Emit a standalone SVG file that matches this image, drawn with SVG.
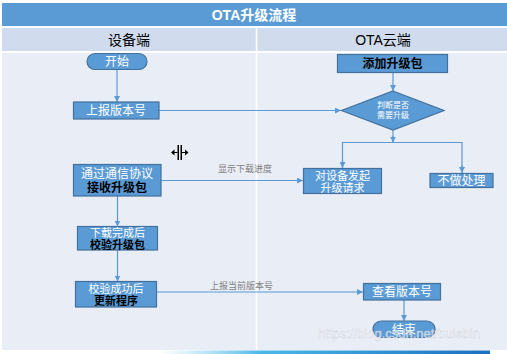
<svg xmlns="http://www.w3.org/2000/svg" width="507" height="354" viewBox="0 0 507 354">
<defs>
<marker id="arr" viewBox="0 0 6 6" refX="6" refY="3" markerWidth="6" markerHeight="6" orient="auto" markerUnits="userSpaceOnUse">
<path d="M0,0 L6,3 L0,6 z" fill="#5B9BD5"/>
</marker>
<linearGradient id="bar" x1="0" y1="0" x2="1" y2="0">
<stop offset="0" stop-color="#7FD3F0" stop-opacity="0"/>
<stop offset="0.3" stop-color="#4FB8E8"/>
<stop offset="1" stop-color="#1A6FC0"/>
</linearGradient>
<style>
text{font-family:"Liberation Sans","Noto Sans CJK SC",sans-serif;}
.box{fill:#5B9BD5;stroke:#41719C;stroke-width:1.2;}
.w{fill:#FFFFFF;font-size:12px;text-anchor:middle;}
.b{fill:#000000;font-size:12px;font-weight:bold;text-anchor:middle;}
.s{font-size:11px;}
.d{fill:#FFFFFF;font-size:8px;text-anchor:middle;}
.lbl{fill:#7F7F7F;font-size:9px;}
.con{fill:none;stroke:#5B9BD5;stroke-width:1.2;}
</style>
</defs>
<rect x="0" y="0" width="507" height="354" fill="#FFFFFF"/>
<rect x="2" y="3" width="505" height="23" fill="#5B9BD5"/>
<text x="254" y="20" fill="#FFFFFF" font-size="14" font-weight="bold" text-anchor="middle">OTA升级流程</text>
<rect x="2" y="28" width="505" height="23" fill="#D0DCEE"/>
<rect x="2" y="53" width="505" height="297" fill="#E9EDF6"/>
<line x1="256.5" y1="28" x2="256.5" y2="350" stroke="#FFFFFF" stroke-width="1.5"/>
<text x="129" y="45" fill="#000" font-size="14" text-anchor="middle">设备端</text>
<text x="383" y="45" fill="#000" font-size="14" text-anchor="middle">OTA云端</text>
<rect x="160" y="350.5" width="330" height="3.5" fill="url(#bar)"/>
<g id="connectors">
<line class="con" x1="117" y1="69" x2="117" y2="102" marker-end="url(#arr)"/>
<line class="con" x1="159" y1="110.5" x2="341" y2="110.5" marker-end="url(#arr)"/>
<line class="con" x1="393" y1="72.5" x2="393" y2="91" marker-end="url(#arr)"/>
<polyline class="con" points="393,130 393,142.5"/>
<polyline class="con" points="342.5,168 342.5,142.5 462,142.5 462,173"/>
<line class="con" x1="342.5" y1="160" x2="342.5" y2="168" marker-end="url(#arr)"/>
<line class="con" x1="462" y1="165" x2="462" y2="173" marker-end="url(#arr)"/>
<line class="con" x1="393" y1="136" x2="393" y2="142.5" marker-end="url(#arr)"/>
<line class="con" x1="161" y1="180.5" x2="303" y2="180.5" marker-end="url(#arr)"/>
<text class="lbl" x="218" y="172">显示下载进度</text>
<line class="con" x1="117.5" y1="196" x2="117.5" y2="226.5" marker-end="url(#arr)"/>
<line class="con" x1="117.5" y1="250" x2="117.5" y2="281.5" marker-end="url(#arr)"/>
<line class="con" x1="156.5" y1="292" x2="363" y2="292" marker-end="url(#arr)"/>
<text class="lbl" x="210" y="289">上报当前版本号</text>
<line class="con" x1="404" y1="300" x2="404" y2="321" marker-end="url(#arr)"/>
</g>
<g id="start">
<rect class="box" x="87" y="53.5" width="60" height="16" rx="8"/>
<text class="w" x="117" y="66">开始</text>
</g>
<g id="report">
<rect class="box" x="73.5" y="102" width="85.5" height="17"/>
<text class="w" x="116" y="115">上报版本号</text>
</g>
<g id="add">
<rect class="box" x="337.5" y="54.5" width="110" height="18"/>
<text class="b" x="392.5" y="68">添加升级包</text>
</g>
<g id="judge">
<polygon class="box" points="393,91 444,110.5 393,130 341.5,110.5"/>
<text class="d" x="393" y="108">判断是否</text>
<text class="d" x="393" y="118">需要升级</text>
</g>
<g id="request">
<rect class="box" x="303.5" y="168.5" width="78" height="25"/>
<text class="w s" x="342.5" y="179.5">对设备发起</text>
<text class="w s" x="342.5" y="191.5">升级请求</text>
</g>
<g id="noop">
<rect class="box" x="430" y="173.5" width="63" height="14"/>
<text class="w" x="461.5" y="185">不做处理</text>
</g>
<g id="receive">
<rect class="box" x="73.5" y="164.5" width="87.5" height="31.5"/>
<text class="w" x="117" y="177.5">通过通信协议</text>
<text class="b" x="117" y="192">接收升级包</text>
</g>
<g id="verify">
<rect class="box" x="77.5" y="226.5" width="80" height="23.5"/>
<text class="w s" x="117.5" y="237">下载完成后</text>
<text class="b s" x="117.5" y="248.5">校验升级包</text>
</g>
<g id="update">
<rect class="box" x="75.5" y="281.5" width="81" height="25.5"/>
<text class="w s" x="116" y="292.5">校验成功后</text>
<text class="b s" x="116" y="305">更新程序</text>
</g>
<g id="check">
<rect class="box" x="363.5" y="283.5" width="77" height="16.5"/>
<text class="w" x="402" y="296">查看版本号</text>
</g>
<g id="end">
<rect class="box" x="373" y="321" width="62" height="16.5" rx="8.2"/>
<text class="w" x="404" y="334">结束</text>
</g>
<g id="cursor" fill="#000">
<rect x="177.5" y="145" width="1.5" height="15"/>
<rect x="180.5" y="145" width="1.5" height="15"/>
<path d="M171,152.5 L174.5,149.5 L174.5,155.5 z"/>
<rect x="174" y="152" width="3.5" height="1"/>
<path d="M188.5,152.5 L185,149.5 L185,155.5 z"/>
<rect x="182" y="152" width="3.5" height="1"/>
</g>
<text x="399" y="338" fill="#FFFFFF" fill-opacity="0.6" stroke="#D0D4DC" stroke-width="0.4" font-size="13" text-anchor="middle">https://blog.csdn.net/bulebin</text>
</svg>
